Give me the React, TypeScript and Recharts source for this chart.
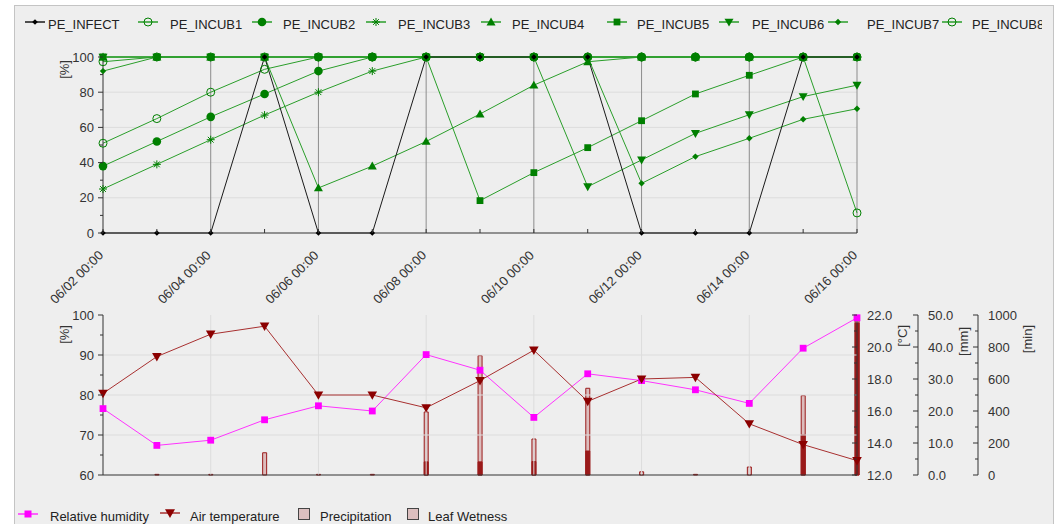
import React from 'react';
import { LineChart, ComposedChart, Line, Bar, XAxis, YAxis, ReferenceLine } from 'recharts';

const dayLabels = [
  '06/02 00:00', '06/03 00:00', '06/04 00:00', '06/05 00:00', '06/06 00:00',
  '06/07 00:00', '06/08 00:00', '06/09 00:00', '06/10 00:00', '06/11 00:00',
  '06/12 00:00', '06/13 00:00', '06/14 00:00', '06/15 00:00', '06/16 00:00',
];

const peInfect = [0, 0, 0, 100, 0, 0, 100, 100, 100, 100, 0, 0, 0, 100, 100];
const peIncub1 = [51, 65, 80, 93, 100, 100, 100, 100, 100, 100, 100, 100, 100, 100, 100];
const peIncub2 = [38, 52, 66, 79, 92, 100, 100, 100, 100, 100, 100, 100, 100, 100, 100];
const peIncub3 = [25, 39, 53, 67, 80, 92, 100, 100, 100, 100, 100, 100, 100, 100, 100];
const peIncub4 = [100, 100, 100, 100, 25.6, 38, 52, 67.6, 84, 97.3, 100, 100, 100, 100, 100];
const peIncub5 = [100, 100, 100, 100, 100, 100, 100, 18.4, 34.3, 48.5, 63.8, 79, 89.6, 100, 100];
const peIncub6 = [100, 100, 100, 100, 100, 100, 100, 100, 100, 26.3, 41.5, 56.6, 67.2, 77.5, 84];
const peIncub7 = [92, 100, 100, 100, 100, 100, 100, 100, 100, 100, 28.2, 43.4, 53.8, 64.6, 70.6];
const peIncub8 = [97.3, 100, 100, 100, 100, 100, 100, 100, 100, 100, 100, 100, 100, 100, 11.4];

const relativeHumidity = [76.6, 67.4, 68.7, 73.8, 77.3, 76.0, 90.1, 86.2, 74.4, 85.3, 83.6, 81.3, 77.9, 91.7, 99.3];
const airTemperature = [17.1, 19.4, 20.8, 21.3, 17.0, 17.0, 16.2, 17.9, 19.8, 16.6, 18.0, 18.1, 15.2, 13.9, 12.9];
const precipitation = [0, 0, 0, 0, 0, 0, 4.1, 4.1, 4.2, 7.5, 0, 0, 0, 12.5, 47.5];
const leafWetness = [0, 4, 4, 139, 4, 4, 394, 746, 225, 542, 20, 4, 50, 496, 969];

const dayTicks = dayLabels.map((_, i) => i);
const pctTicks = [0, 10, 20, 30, 40, 50, 60, 70, 80, 90, 100];
const pctGrid = [20, 40, 60, 80];
const rhTicks = [60, 65, 70, 75, 80, 85, 90, 95, 100];
const rhGrid = [70, 80, 90];
const tempTicks = [12, 13, 14, 15, 16, 17, 18, 19, 20, 21, 22];
const mmTicks = [0, 5, 10, 15, 20, 25, 30, 35, 40, 45, 50];
const minTicks = [0, 100, 200, 300, 400, 500, 600, 700, 800, 900, 1000];
const topGridDays = [2, 4, 6, 8, 10, 12, 14];
const bottomGridDays = [2, 4, 6, 8, 10, 12];

const FONT = '"Liberation Sans", Arial, Helvetica, sans-serif';
const GREEN = '#007f00';
const GREEN_LINE = '#2a9e2a';

type Shape = 'diamond' | 'circle' | 'openCircle' | 'square' | 'triUp' | 'triDown' | 'asterisk';

const topSeries: { key: string; values: number[]; shape: Shape; size: number; color: string; line: string }[] = [
  { key: 'PE_INFECT', values: peInfect, shape: 'diamond', size: 2.8, color: '#000000', line: '#1a1a1a' },
  { key: 'PE_INCUB1', values: peIncub1, shape: 'openCircle', size: 4, color: GREEN, line: GREEN_LINE },
  { key: 'PE_INCUB2', values: peIncub2, shape: 'circle', size: 4.3, color: GREEN, line: GREEN_LINE },
  { key: 'PE_INCUB3', values: peIncub3, shape: 'asterisk', size: 4, color: GREEN, line: GREEN_LINE },
  { key: 'PE_INCUB4', values: peIncub4, shape: 'triUp', size: 4.5, color: GREEN, line: GREEN_LINE },
  { key: 'PE_INCUB5', values: peIncub5, shape: 'square', size: 3.4, color: GREEN, line: GREEN_LINE },
  { key: 'PE_INCUB6', values: peIncub6, shape: 'triDown', size: 4.5, color: GREEN, line: GREEN_LINE },
  { key: 'PE_INCUB7', values: peIncub7, shape: 'diamond', size: 3.2, color: GREEN, line: GREEN_LINE },
  { key: 'PE_INCUB8', values: peIncub8, shape: 'openCircle', size: 4, color: GREEN, line: GREEN_LINE },
];
// drawn last-to-first so the first series sits on top
const drawOrder = [...topSeries].reverse();

const topLegendLayout = [
  { icon: 35, text: 48 }, { icon: 148, text: 170 }, { icon: 262, text: 283 },
  { icon: 376, text: 398 }, { icon: 491, text: 512 }, { icon: 617, text: 637 },
  { icon: 729, text: 752 }, { icon: 838, text: 867 }, { icon: 952, text: 972 },
];

function Marker({ shape, cx, cy, fill, s }: { shape: Shape; cx: number; cy: number; fill: string; s: number }) {
  if (cx == null || cy == null || isNaN(cx) || isNaN(cy)) return <g />;
  switch (shape) {
    case 'diamond':
      return <polygon points={`${cx},${cy - s} ${cx + s},${cy} ${cx},${cy + s} ${cx - s},${cy}`} fill={fill} />;
    case 'circle':
      return <circle cx={cx} cy={cy} r={s} fill={fill} />;
    case 'openCircle':
      return <circle cx={cx} cy={cy} r={s} fill="none" stroke={fill} strokeWidth={1} />;
    case 'square':
      return <rect x={cx - s} y={cy - s} width={2 * s} height={2 * s} fill={fill} />;
    case 'triUp':
      return <polygon points={`${cx},${cy - s} ${cx + s},${cy + s * 0.75} ${cx - s},${cy + s * 0.75}`} fill={fill} />;
    case 'triDown':
      return <polygon points={`${cx},${cy + s} ${cx + s},${cy - s * 0.75} ${cx - s},${cy - s * 0.75}`} fill={fill} />;
    case 'asterisk': {
      const d = s * 0.72;
      return (
        <g stroke={fill} strokeWidth={1}>
          <line x1={cx - s} y1={cy} x2={cx + s} y2={cy} />
          <line x1={cx} y1={cy - s} x2={cx} y2={cy + s} />
          <line x1={cx - d} y1={cy - d} x2={cx + d} y2={cy + d} />
          <line x1={cx - d} y1={cy + d} x2={cx + d} y2={cy - d} />
        </g>
      );
    }
    default:
      return <g />;
  }
}

const isMultiple = (v: number, m: number) => Math.abs(v / m - Math.round(v / m)) < 1e-6;

const LeftTick = (props: any) => {
  const { x, y, payload, major } = props;
  const v = Number(payload.value);
  const isMajor = isMultiple(v, major);
  return (
    <g>
      <line x1={x} x2={x - (isMajor ? 5 : 3)} y1={y} y2={y} stroke="#333" />
      {isMajor && (
        <text x={x - 9} y={y} textAnchor="end" dominantBaseline="central" fontSize={13} fill="#333" fontFamily={FONT}>
          {v}
        </text>
      )}
    </g>
  );
};

const RightTick = (props: any) => {
  const { x, y, payload, major, decimals } = props;
  const v = Number(payload.value);
  const isMajor = isMultiple(v, major);
  return (
    <g>
      <line x1={x} x2={x - (isMajor ? 5 : 3)} y1={y} y2={y} stroke="#333" />
      {isMajor && (
        <text x={x + 10} y={y} textAnchor="start" dominantBaseline="central" fontSize={13} fill="#333" fontFamily={FONT}>
          {v.toFixed(decimals)}
        </text>
      )}
    </g>
  );
};

const TopXTick = (props: any) => {
  const { x, y, payload } = props;
  const i = Number(payload.value);
  const px = x + 1;
  const py = y + 23;
  return (
    <g>
      <line x1={x} x2={x} y1={y} y2={y - 4} stroke="#333" />
      {i % 2 === 0 && (
        <text x={px} y={py} textAnchor="end" transform={`rotate(-45 ${px} ${py})`} fontSize={13} fill="#333" fontFamily={FONT}>
          {dayLabels[i]}
        </text>
      )}
    </g>
  );
};

const TopEdgeTick = (props: any) => {
  const { x, y } = props;
  return <line x1={x} x2={x} y1={y} y2={y + 4} stroke="#333" />;
};

const axisTitle = (text: string, dx: number, dy: number) => ({
  value: text,
  content: (p: any) => {
    const vb = p.viewBox || {};
    const x = (vb.x ?? 0) + dx;
    const y = (vb.y ?? 0) + dy;
    return (
      <text x={x} y={y} transform={`rotate(-90 ${x} ${y})`} textAnchor="end" dominantBaseline="central" fontSize={13} fill="#333" fontFamily={FONT}>
        {text}
      </text>
    );
  },
});

function LegendLine({ left, top, shape, color, line, s }: any) {
  return (
    <svg style={{ position: 'absolute', left: left - 11, top: top - 7 }} width={22} height={14}>
      <line x1={1} x2={21} y1={7} y2={7} stroke={line} strokeWidth={1.5} />
      <Marker shape={shape} cx={11} cy={7} fill={color} s={s} />
    </svg>
  );
}

function LegendBox({ left, top }: any) {
  return (
    <svg style={{ position: 'absolute', left: left - 6, top: top - 6 }} width={12} height={12}>
      <rect x={0.5} y={0.5} width={11} height={11} fill="#dcbfbf" stroke="#444" strokeWidth={1} />
    </svg>
  );
}

const textStyle = (left: number, top: number): React.CSSProperties => ({
  position: 'absolute', left, top, fontSize: 13, lineHeight: '16px', color: '#222', whiteSpace: 'nowrap', fontFamily: FONT,
});

export default function App() {
  const topRows = dayLabels.map((label, i) => {
    const r: any = { i, label };
    topSeries.forEach((s) => { r[s.key] = s.values[i]; });
    return r;
  });
  const bottomRows = dayLabels.map((label, i) => ({
    i, label, rh: relativeHumidity[i], temp: airTemperature[i], precip: precipitation[i], lw: leafWetness[i],
  }));

  return (
    <div style={{ position: 'absolute', left: 0, top: 0, width: 1060, height: 524, background: '#ffffff', overflow: 'hidden', fontFamily: FONT }}>
      <div style={{ position: 'absolute', left: 14, top: 5, width: 1040, height: 540, background: '#eeeeee', border: '1px solid #c4c4c4', boxSizing: 'border-box' }} />

      <div style={{ position: 'absolute', left: 0, top: 0, width: 1042, height: 40, overflow: 'hidden' }}>
        {topSeries.map((s, k) => (
          <React.Fragment key={s.key}>
            <LegendLine left={topLegendLayout[k].icon} top={22} shape={s.shape} color={s.color} line={s.line} s={s.size} />
            <span style={textStyle(topLegendLayout[k].text, 17)}>{s.key}</span>
          </React.Fragment>
        ))}
      </div>

      <div style={{ position: 'absolute', left: 0, top: 0 }}>
        <LineChart width={1060} height={310} data={topRows} margin={{ top: 57, right: 203, bottom: 0, left: 20 }}>
          {pctGrid.map((v) => <ReferenceLine key={'h' + v} y={v} stroke="#dcdcdc" />)}
          {topGridDays.map((d) => <ReferenceLine key={'v' + d} x={d} stroke="#8c8c8c" />)}
          <XAxis dataKey="i" type="number" domain={[0, 14]} ticks={dayTicks} interval={0} height={77}
            tickSize={0} tickMargin={0} tickLine={false} axisLine={{ stroke: '#333' }} tick={<TopXTick />} />
          <YAxis type="number" domain={[0, 100]} ticks={pctTicks} interval={0} width={83}
            tickSize={0} tickMargin={0} tickLine={false} axisLine={{ stroke: '#333' }} tick={<LeftTick major={20} />}
            label={axisTitle('[%]', 44, 3)} />
          {drawOrder.map((s) => (
            <Line key={s.key} dataKey={s.key} type="linear" stroke={s.line} strokeWidth={1} isAnimationActive={false} activeDot={false}
              dot={(p: any) => <Marker key={`${s.key}-${p.index}`} shape={s.shape} cx={p.cx} cy={p.cy} fill={s.color} s={s.size} />} />
          ))}
        </LineChart>
      </div>

      <div style={{ position: 'absolute', left: 0, top: 290 }}>
        <ComposedChart width={1060} height={200} data={bottomRows} margin={{ top: 25, right: 20, bottom: 15, left: 20 }} barGap={-4}>
          {rhGrid.map((v) => <ReferenceLine key={'bh' + v} yAxisId="rh" y={v} stroke="#dcdcdc" />)}
          {bottomGridDays.map((d) => <ReferenceLine key={'bv' + d} yAxisId="rh" x={d} stroke="#dcdcdc" />)}
          <ReferenceLine yAxisId="rh" y={60} stroke="#333" />
          <XAxis dataKey="i" type="number" orientation="top" domain={[0, 14]} ticks={dayTicks} interval={0} height={0}
            tickSize={0} tickMargin={0} tickLine={false} axisLine={{ stroke: '#333' }} tick={<TopEdgeTick />} />
          <YAxis yAxisId="rh" orientation="left" type="number" domain={[60, 100]} ticks={rhTicks} interval={0} width={83}
            tickSize={0} tickMargin={0} tickLine={false} axisLine={{ stroke: '#333' }} tick={<LeftTick major={10} />}
            label={axisTitle('[%]', 44, 10)} />
          <YAxis yAxisId="r1" orientation="right" type="number" domain={[12, 22]} ticks={tempTicks} interval={0} width={61}
            tickSize={0} tickMargin={0} tickLine={false} axisLine={{ stroke: '#333' }} tick={<RightTick major={2} decimals={1} />}
            label={axisTitle('[°C]', 45, 10)} />
          <YAxis yAxisId="r2" orientation="right" type="number" domain={[0, 50]} ticks={mmTicks} interval={0} width={60}
            tickSize={0} tickMargin={0} tickLine={false} axisLine={{ stroke: '#333' }} tick={<RightTick major={10} decimals={1} />}
            label={axisTitle('[mm]', 45, 12)} />
          <YAxis yAxisId="r3" orientation="right" type="number" domain={[0, 1000]} ticks={minTicks} interval={0} width={62}
            tickSize={0} tickMargin={0} tickLine={false} axisLine={{ stroke: '#333' }} tick={<RightTick major={200} decimals={0} />}
            label={axisTitle('[min]', 49, 10)} />
          <Bar yAxisId="r3" dataKey="lw" barSize={4} fill="#dcbcbc" stroke="#9a1a1a" strokeWidth={1} isAnimationActive={false} />
          <Bar yAxisId="r2" dataKey="precip" barSize={4} fill="#9a1a1a" stroke="#9a1a1a" strokeWidth={1} isAnimationActive={false} />
          <Line yAxisId="rh" dataKey="rh" type="linear" stroke="#ff33ff" strokeWidth={1} isAnimationActive={false} activeDot={false}
            dot={(p: any) => <Marker key={`rh-${p.index}`} shape="square" cx={p.cx} cy={p.cy} fill="#ff00ff" s={3.4} />} />
          <Line yAxisId="r1" dataKey="temp" type="linear" stroke="#a83030" strokeWidth={1} isAnimationActive={false} activeDot={false}
            dot={(p: any) => <Marker key={`t-${p.index}`} shape="triDown" cx={p.cx} cy={p.cy} fill="#8b0000" s={4.8} />} />
        </ComposedChart>
      </div>

      <LegendLine left={28} top={514} shape="square" color="#ff00ff" line="#ff33ff" s={3.5} />
      <span style={textStyle(50, 509)}>Relative humidity</span>
      <LegendLine left={170} top={513} shape="triDown" color="#8b0000" line="#a83030" s={5} />
      <span style={textStyle(190, 509)}>Air temperature</span>
      <LegendBox left={304} top={514} />
      <span style={textStyle(320, 509)}>Precipitation</span>
      <LegendBox left={413} top={514} />
      <span style={textStyle(428, 509)}>Leaf Wetness</span>
    </div>
  );
}
